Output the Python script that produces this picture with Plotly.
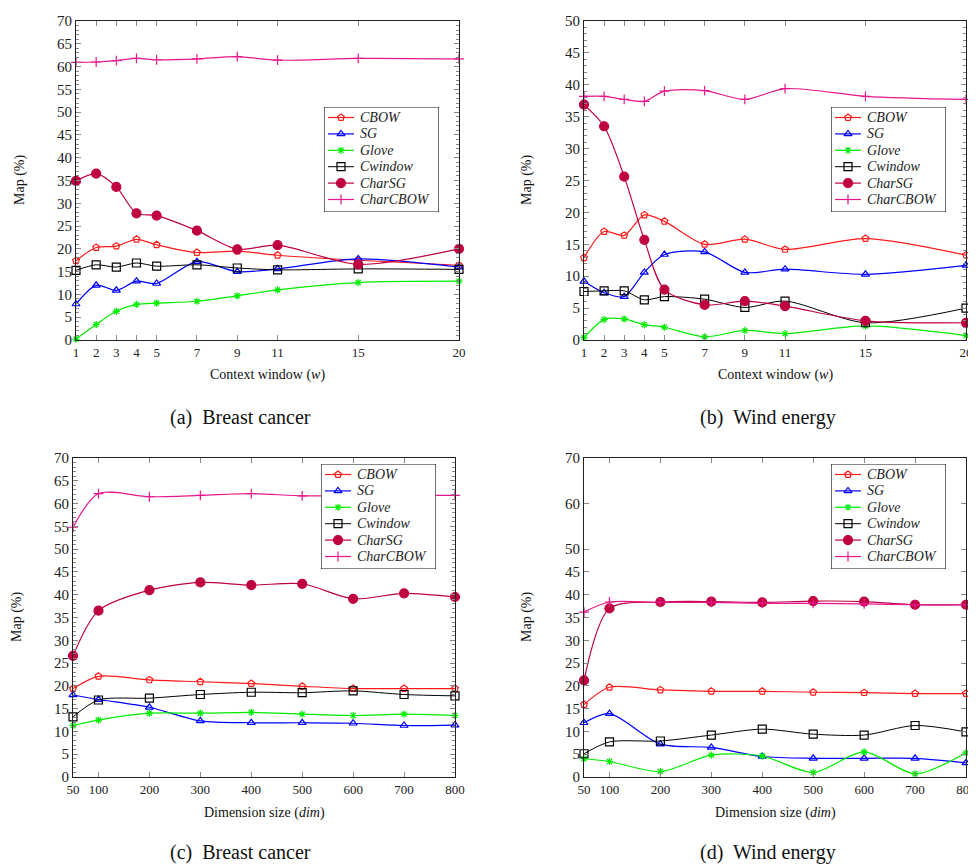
import plotly.graph_objects as go

# ---------------- data ----------------
win = [1, 2, 3, 4, 5, 7, 9, 11, 15, 20]
dims = [50, 100, 200, 300, 400, 500, 600, 700, 800]
series_names = ["CBOW", "SG", "Glove", "Cwindow", "CharSG", "CharCBOW"]

# (a) Breast cancer, context window
a_cbow = [17.4, 20.3, 20.6, 22.1, 20.9, 19.2, 19.5, 18.6, 17.5, 16.4]
a_sg = [7.9, 12.0, 10.9, 12.9, 12.4, 17.2, 15.0, 15.6, 17.8, 16.0]
a_glove = [0.2, 3.4, 6.3, 7.8, 8.1, 8.5, 9.7, 11.0, 12.6, 12.9]
a_cwin = [15.3, 16.5, 16.0, 16.9, 16.2, 16.5, 15.8, 15.4, 15.6, 15.5]
a_charsg = [34.9, 36.5, 33.6, 27.8, 27.3, 24.0, 19.9, 20.8, 16.6, 20.0]
a_charcbow = [60.9, 61.0, 61.3, 61.8, 61.5, 61.7, 62.2, 61.4, 61.8, 61.7]

# (b) Wind energy, context window
b_cbow = [12.9, 17.0, 16.4, 19.6, 18.6, 15.0, 15.8, 14.2, 15.9, 13.3]
b_sg = [9.2, 7.4, 6.8, 10.6, 13.4, 13.8, 10.6, 11.1, 10.3, 11.7]
b_glove = [0.4, 3.2, 3.3, 2.4, 2.0, 0.5, 1.5, 1.0, 2.2, 0.7]
b_cwin = [7.6, 7.7, 7.7, 6.3, 6.8, 6.4, 5.1, 6.1, 2.7, 5.0]
b_charsg = [36.9, 33.5, 25.6, 15.7, 7.9, 5.5, 6.1, 5.3, 3.0, 2.7]
b_charcbow = [38.2, 38.2, 37.7, 37.4, 39.0, 39.1, 37.7, 39.4, 38.2, 37.7]

# (c) Breast cancer, dimension size
c_cbow = [19.4, 22.1, 21.3, 20.9, 20.5, 19.9, 19.4, 19.4, 19.4]
c_sg = [18.0, 17.0, 15.3, 12.3, 11.9, 11.9, 11.8, 11.3, 11.4]
c_glove = [11.3, 12.5, 14.0, 14.0, 14.2, 13.8, 13.5, 13.8, 13.5]
c_cwin = [13.2, 16.9, 17.3, 18.1, 18.6, 18.5, 18.9, 18.1, 17.8]
c_charsg = [26.6, 36.5, 41.0, 42.7, 42.1, 42.4, 39.1, 40.3, 39.5]
c_charcbow = [54.8, 62.2, 61.5, 61.8, 62.2, 61.7, 61.8, 61.8, 61.8]

# (d) Wind energy, dimension size
d_cbow = [15.9, 19.7, 19.1, 18.8, 18.8, 18.6, 18.5, 18.3, 18.3]
d_sg = [11.9, 13.9, 7.2, 6.5, 4.5, 4.1, 4.1, 4.1, 3.1]
d_glove = [4.0, 3.4, 1.2, 4.8, 4.6, 1.0, 5.5, 0.7, 5.3]
d_cwin = [5.1, 7.7, 7.9, 9.2, 10.5, 9.4, 9.2, 11.3, 9.9]
d_charsg = [21.2, 37.0, 38.4, 38.5, 38.3, 38.6, 38.5, 37.8, 37.8]
d_charcbow = [36.2, 38.4, 38.3, 38.3, 38.1, 38.1, 38.0, 37.8, 37.8]

captions = ["(a)  Breast cancer", "(b)  Wind energy", "(c)  Breast cancer", "(d)  Wind energy"]
y_title = "Map (%)"
x_titles = ["Context window (<i>w</i>)", "Context window (<i>w</i>)",
            "Dimension size (<i>dim</i>)", "Dimension size (<i>dim</i>)"]

# ---------------- styles ----------------
styles = {
    "CBOW": dict(color="#FF1A1A", symbol="pentagon-open", size=7, lw=1.2),
    "SG": dict(color="#0000FF", symbol="triangle-up-open", size=7, lw=1.2),
    "Glove": dict(color="#00EE00", symbol="asterisk-open", size=6, lw=1.2),
    "Cwindow": dict(color="#000000", symbol="square-open", size=8, lw=1.0),
    "CharSG": dict(color="#BF0040", symbol="circle", size=9, lw=1.2),
    "CharCBOW": dict(color="#E8168C", symbol="cross-thin-open", size=7, lw=1.2),
}

panels = [
    dict(x=win, data=[a_cbow, a_sg, a_glove, a_cwin, a_charsg, a_charcbow], ymax=70,
         yticks=list(range(0, 71, 5)), minor=True, xticks=win, xr=[1, 20]),
    dict(x=win, data=[b_cbow, b_sg, b_glove, b_cwin, b_charsg, b_charcbow], ymax=50,
         yticks=list(range(0, 51, 5)), minor=True, xticks=win, xr=[1, 20]),
    dict(x=dims, data=[c_cbow, c_sg, c_glove, c_cwin, c_charsg, c_charcbow], ymax=70,
         yticks=list(range(0, 71, 5)), minor=True, xticks=dims, xr=[50, 800]),
    dict(x=dims, data=[d_cbow, d_sg, d_glove, d_cwin, d_charsg, d_charcbow], ymax=70,
         yticks=list(range(0, 51, 5)) + [60, 70], minor=False, xticks=dims, xr=[50, 800]),
]

# The page body has an 8px margin, so the figure is drawn 8px smaller and
# reference pixel positions are shifted by OFF.
OFF = 8
W, H = 976 - OFF, 865 - OFF


def fx(px):
    return (px - OFF) / W


def fy(py):
    return 1 - (py - OFF) / H


# plot-area pixel boxes in reference pixels (left, right, top, bottom)
boxes = [(76, 459, 21, 340), (584, 966, 21, 340), (73, 455, 458, 777), (584, 966, 458, 777)]
legend_pos = [(324, 107), (831, 107), (321, 464), (831, 464)]
LEG_W, LEG_H = 115, 105
caption_pos = [(240, 418), (768, 418), (240, 852), (768, 852)]
ytitle_pos = [(20, 180), (527, 180), (17, 617), (527, 617)]
xtitle_y = [375, 375, 813, 813]

FONT = "Liberation Serif, DejaVu Serif, serif"
fig = go.Figure()
layout = {}

for i, p in enumerate(panels):
    k = "" if i == 0 else str(i + 1)
    for name, ys in zip(series_names, p["data"]):
        s = styles[name]
        fig.add_trace(go.Scatter(
            x=p["x"], y=ys, name=name, mode="lines+markers", showlegend=False,
            line=dict(color=s["color"], width=s["lw"], shape="spline", smoothing=0.8),
            marker=dict(symbol=s["symbol"], size=s["size"], color=s["color"],
                        line=dict(color=s["color"], width=1.2)),
            xaxis=f"x{k}", yaxis=f"y{k}", cliponaxis=False,
        ))
    l, r, t, b = boxes[i]
    xa = dict(domain=[fx(l), fx(r)], range=p["xr"], anchor=f"y{k}", automargin=False,
              tickvals=p["xticks"], ticktext=[str(v) for v in p["xticks"]],
              ticks="inside", ticklen=5, tickcolor="#888", mirror="allticks",
              showline=True, linecolor="#222", linewidth=1.2, showgrid=False, zeroline=False,
              tickfont=dict(family=FONT, size=13, color="#222"))
    ya = dict(domain=[fy(b), fy(t)], range=[0, p["ymax"]], anchor=f"x{k}", automargin=False,
              tickvals=p["yticks"], ticks="inside", ticklen=5, tickcolor="#888", mirror="allticks",
              showline=True, linecolor="#222", linewidth=1.2, showgrid=False, zeroline=False,
              tickfont=dict(family=FONT, size=15, color="#222"))
    if p["minor"]:
        ya["minor"] = dict(ticks="inside", ticklen=3, tickcolor="#888", dtick=1, showgrid=False)
    layout[f"xaxis{k}"] = xa
    layout[f"yaxis{k}"] = ya

    cx, cy = caption_pos[i]
    fig.add_annotation(x=fx(cx), y=fy(cy), xref="paper", yref="paper",
                       text=captions[i], showarrow=False, xanchor="center", yanchor="middle",
                       font=dict(family=FONT, size=20, color="#111"))
    tx, ty = ytitle_pos[i]
    fig.add_annotation(x=fx(tx), y=fy(ty), xref="paper", yref="paper",
                       text=y_title, showarrow=False, textangle=-90,
                       xanchor="center", yanchor="middle",
                       font=dict(family=FONT, size=14, color="#111"))
    fig.add_annotation(x=fx((l + r) / 2), y=fy(xtitle_y[i]), xref="paper", yref="paper",
                       text=x_titles[i], showarrow=False, xanchor="center", yanchor="middle",
                       font=dict(family=FONT, size=14, color="#111"))

# ---- legends: a small overlay subplot per panel (units = pixels inside the box) ----
for i in range(4):
    n = 5 + i
    lx, ly = legend_pos[i]
    layout[f"xaxis{n}"] = dict(domain=[fx(lx), fx(lx + LEG_W)], range=[0, LEG_W], anchor=f"y{n}",
                               visible=False, fixedrange=True, automargin=False)
    layout[f"yaxis{n}"] = dict(domain=[fy(ly + LEG_H), fy(ly)], range=[LEG_H, 0], anchor=f"x{n}",
                               visible=False, fixedrange=True, automargin=False)
    fig.add_trace(go.Scatter(
        x=[0, LEG_W, LEG_W, 0, 0], y=[0, 0, LEG_H, LEG_H, 0], mode="lines",
        fill="toself", fillcolor="white", line=dict(color="#111", width=1.2),
        showlegend=False, hoverinfo="skip", xaxis=f"x{n}", yaxis=f"y{n}", cliponaxis=False))
    for j, name in enumerate(series_names):
        s = styles[name]
        row = 10.5 + 16.4 * j
        fig.add_trace(go.Scatter(
            x=[4, 30], y=[row, row], mode="lines", showlegend=False, hoverinfo="skip",
            line=dict(color=s["color"], width=s["lw"]), xaxis=f"x{n}", yaxis=f"y{n}"))
        fig.add_trace(go.Scatter(
            x=[17], y=[row], mode="markers", showlegend=False, hoverinfo="skip",
            marker=dict(symbol=s["symbol"], size=s["size"], color=s["color"],
                        line=dict(color=s["color"], width=1.2)),
            xaxis=f"x{n}", yaxis=f"y{n}"))
        fig.add_annotation(x=34, y=row, xref=f"x{n}", yref=f"y{n}", text=f"<i>{name}</i>",
                           showarrow=False, xanchor="left", yanchor="middle",
                           font=dict(family=FONT, size=14, color="#222"))

fig.update_layout(width=W, height=H, margin=dict(l=0, r=0, t=0, b=0, autoexpand=False),
                  paper_bgcolor="white", plot_bgcolor="white", showlegend=False, **layout)
fig.write_html("out.html")
